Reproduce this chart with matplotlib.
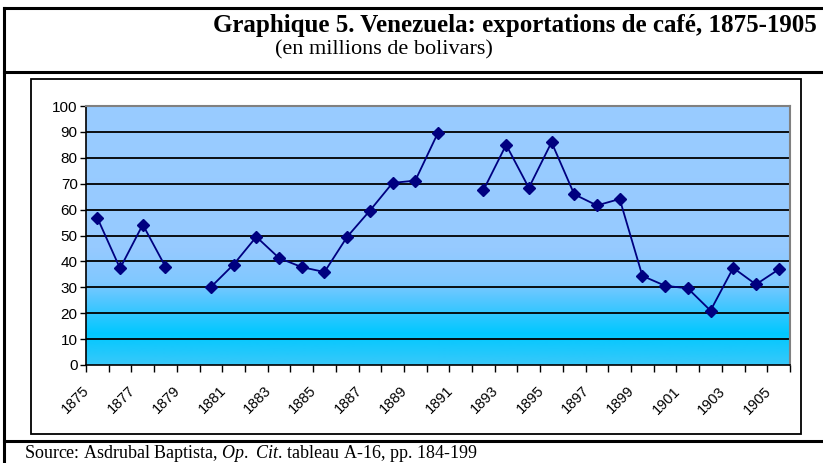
import numpy as np
import matplotlib.pyplot as plt
from matplotlib.colors import LinearSegmentedColormap
from matplotlib.lines import Line2D
from matplotlib.patches import Rectangle
from matplotlib.transforms import ScaledTranslation

plt.rcParams["mathtext.fontset"] = "custom"
plt.rcParams["mathtext.it"] = "Liberation Serif:italic"
plt.rcParams["mathtext.rm"] = "Liberation Serif"

years = list(range(1875, 1906))
exports = [56.8, 37.3, 54.2, 37.9, np.nan, 30.1, 38.8, 49.5, 41.3, 37.8,
           35.9, 49.5, 59.6, 70.3, 71.2, 89.7, np.nan, 67.5, 85.0, 68.4,
           86.0, 65.9, 61.6, 64.1, 34.4, 30.6, 29.6, 21.0, 37.5, 31.1, 36.9]
year_labels = [str(y) if (y - 1875) % 2 == 0 else "" for y in years]
y_ticks = list(range(0, 101, 10))

title = "Graphique 5. Venezuela: exportations de café, 1875-1905"
subtitle = "(en millions de bolivars)"
source = r"Source: Asdrubal Baptista, $\it{Op.}$ $\it{Cit}$. tableau A-16, pp. 184-199"

W, H = 823, 463
fig = plt.figure(figsize=(W / 100, H / 100), dpi=100)


def px(x, y):
    # pixel position (from top left) -> figure fraction
    return x / W, 1 - y / H


# outer frame lines
for (x0, y0), (x1, y1) in [((4, 8), (823, 8)), ((4, 72), (823, 72)),
                           ((4, 441), (823, 441)), ((4, 8), (4, 463))]:
    a, b = px(x0, y0)
    c, d = px(x1, y1)
    fig.add_artist(Line2D([a, c], [b, d], color="black", lw=2.2,
                          transform=fig.transFigure))

# inner chart frame
fx, fy = px(31, 434)
fig.add_artist(Rectangle((fx, fy), (801 - 31) / W, (434 - 79) / H,
                         transform=fig.transFigure, fill=False,
                         edgecolor="black", lw=1.3))

fig.text(*px(817, 32), title, ha="right", va="baseline",
         family="Liberation Serif", fontweight="bold", fontsize=18)
fig.text(*px(275, 54), subtitle, ha="left", va="baseline",
         family="Liberation Serif", fontsize=16)
fig.text(*px(24, 458), source, ha="left", va="baseline",
         family="Liberation Serif", fontsize=13)

left, bottom = px(86, 365)
ax = fig.add_axes([left, bottom, (790 - 86) / W, (365 - 106) / H])

n = len(years)
ax.set_xlim(0, n)
ax.set_ylim(0, 100)

# gradient fill of the plot area
grad = LinearSegmentedColormap.from_list(
    "bg", [(0.0, "#38C8FA"), (0.12, "#00C8FF"), (0.22, "#40C6FF"),
           (0.32, "#80C8FF"), (0.45, "#96CAFF"), (1.0, "#99CCFF")])
ax.imshow(np.linspace(0, 1, 256).reshape(-1, 1), cmap=grad, aspect="auto",
          origin="lower", extent=[0, n, 0, 100], zorder=0)

for v in y_ticks[1:-1]:
    ax.axhline(v, color="black", lw=1.3, zorder=1)

x = np.arange(n) + 0.5
ax.plot(x, exports, color="#000080", lw=1.3, marker="D", markersize=6,
        zorder=3)

for side in ["top", "right"]:
    ax.spines[side].set_color("#808080")
    ax.spines[side].set_linewidth(1.5)
for side in ["left", "bottom"]:
    ax.spines[side].set_color("black")
    ax.spines[side].set_linewidth(1.2)

ax.set_yticks(y_ticks)
ax.tick_params(axis="y", length=4, width=1, pad=2, labelsize=11)

ax.set_xticks(np.arange(n + 1), minor=True)
ax.set_xticks(x)
ax.set_xticklabels(year_labels, rotation=45, ha="right", va="center",
                   rotation_mode="anchor", fontsize=10.5)
ax.tick_params(axis="x", which="minor", length=5, width=1)
ax.tick_params(axis="x", which="major", length=0, pad=17)
offset = ScaledTranslation(-10 / 100, 0, fig.dpi_scale_trans)
for lab in ax.get_xticklabels():
    lab.set_transform(lab.get_transform() + offset)

for lab in ax.get_xticklabels() + ax.get_yticklabels():
    lab.set_family("Liberation Sans")

fig.savefig("out.png", dpi=100)
